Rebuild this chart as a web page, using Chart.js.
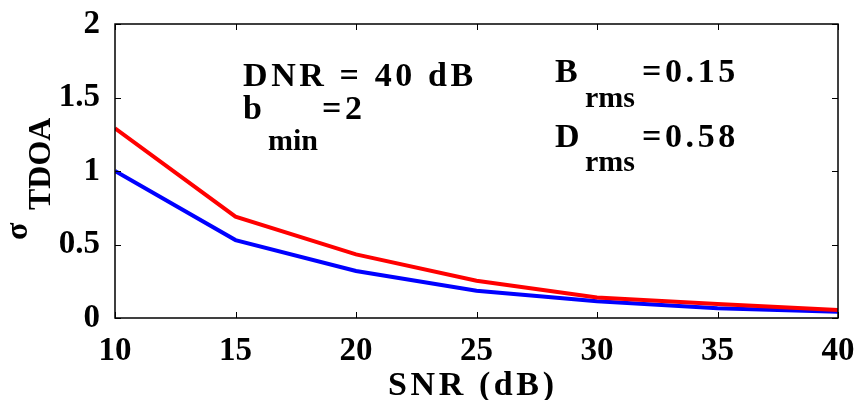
<!DOCTYPE html>
<html>
<head>
<meta charset="utf-8">
<script src="https://cdn.jsdelivr.net/npm/chart.js@4.4.1/dist/chart.umd.min.js"></script>
<style>
  html, body { margin: 0; padding: 0; background: #fff; }
  #wrap { width: 857px; height: 400px; }
</style>
</head>
<body>
<div id="wrap"><canvas id="tdoaChart" width="857" height="400"></canvas></div>
<script>
// data
const snrDb = [10, 15, 20, 25, 30, 35, 40];
const sigmaRed = [1.29, 0.69, 0.433, 0.253, 0.14, 0.095, 0.055];
const sigmaBlue = [1.0, 0.53, 0.32, 0.186, 0.114, 0.066, 0.043];
const xTicks = [10, 15, 20, 25, 30, 35, 40];
const yTicks = [0, 0.5, 1, 1.5, 2];
const yTickLabels = ['0', '0.5', '1', '1.5', '2'];

const SERIF = "'Liberation Serif', 'Times New Roman', serif";

function pts(ys) {
  return snrDb.map((x, i) => ({ x: x, y: ys[i] }));
}

// write text with optional letter spacing
function txt(ctx, s, x, y, size, spacing) {
  ctx.font = 'bold ' + size + 'px ' + SERIF;
  ctx.letterSpacing = (spacing || 0) + 'px';
  ctx.fillText(s, x, y);
  ctx.letterSpacing = '0px';
}

// box, inward ticks, annotations and axis titles
const figurePlugin = {
  id: 'figure',
  afterDraw(chart) {
    const ctx = chart.ctx;
    const a = chart.chartArea;
    const xs = chart.scales.x;
    const ys = chart.scales.y;
    ctx.save();
    ctx.strokeStyle = '#000';
    ctx.lineWidth = 1.5;
    ctx.strokeRect(a.left, a.top, a.right - a.left, a.bottom - a.top);
    ctx.lineWidth = 1;
    const tl = 6;
    ctx.beginPath();
    xTicks.forEach(v => {
      const px = Math.round(xs.getPixelForValue(v)) + 0.5;
      ctx.moveTo(px, a.bottom); ctx.lineTo(px, a.bottom - tl);
      ctx.moveTo(px, a.top); ctx.lineTo(px, a.top + tl);
    });
    yTicks.forEach(v => {
      const py = Math.round(ys.getPixelForValue(v)) + 0.5;
      ctx.moveTo(a.left, py); ctx.lineTo(a.left + tl, py);
      ctx.moveTo(a.right, py); ctx.lineTo(a.right - tl, py);
    });
    ctx.stroke();

    ctx.fillStyle = '#000';
    ctx.textAlign = 'left';
    ctx.textBaseline = 'alphabetic';
    // annotations
    txt(ctx, 'DNR = 40 dB', 243, 86, 34, 3.6);
    txt(ctx, 'b', 243, 119, 34, 3.6);
    txt(ctx, 'min', 268, 150, 30, 0);
    txt(ctx, '=2', 322, 119, 34, 3.6);
    txt(ctx, 'B', 555, 82, 34, 3.6);
    txt(ctx, 'rms', 585, 107, 30, 0);
    txt(ctx, '=0.15', 642, 82, 34, 3.6);
    txt(ctx, 'D', 555, 147, 34, 3.6);
    txt(ctx, 'rms', 585, 171, 30, 0);
    txt(ctx, '=0.58', 642, 147, 34, 3.6);

    // x title
    txt(ctx, 'SNR (dB)', 388, 395, 34, 3.6);

    // y title, rotated
    ctx.save();
    ctx.translate(27, 240);
    ctx.rotate(-Math.PI / 2);
    txt(ctx, 'σ', 0, 0, 32, 0);
    ctx.restore();
    ctx.save();
    ctx.translate(50, 210);
    ctx.rotate(-Math.PI / 2);
    txt(ctx, 'TDOA', 0, 0, 32, 0);
    ctx.restore();
    ctx.restore();
  }
};

const ctx = document.getElementById('tdoaChart').getContext('2d');

const tdoaChart = new Chart(ctx, {
  type: 'line',
  data: {
    datasets: [
      {
        label: 'red',
        data: pts(sigmaRed),
        borderColor: '#ff0000',
        borderWidth: 4,
        pointRadius: 0,
        fill: false,
        tension: 0
      },
      {
        label: 'blue',
        data: pts(sigmaBlue),
        borderColor: '#0000ff',
        borderWidth: 4,
        pointRadius: 0,
        fill: false,
        tension: 0
      }
    ]
  },
  options: {
    responsive: false,
    animation: false,
    layout: { padding: { top: 24, right: 19, left: 0, bottom: 0 } },
    plugins: {
      legend: { display: false },
      tooltip: { enabled: false }
    },
    scales: {
      x: {
        type: 'linear',
        min: 10,
        max: 40,
        afterFit: s => {
          s.height = 82;
          s.paddingLeft = 0;
          s.paddingRight = 0;
        },
        afterBuildTicks: s => { s.ticks = xTicks.map(v => ({ value: v })); },
        grid: { drawOnChartArea: false, drawTicks: false },
        border: { display: false },
        ticks: {
          color: '#000',
          padding: 14,
          maxRotation: 0,
          font: { family: SERIF, size: 33, weight: 'bold' }
        }
      },
      y: {
        min: 0,
        max: 2,
        afterFit: s => {
          s.width = 115;
          s.paddingTop = 0;
          s.paddingBottom = 0;
        },
        afterBuildTicks: s => { s.ticks = yTicks.map(v => ({ value: v })); },
        grid: { drawOnChartArea: false, drawTicks: false },
        border: { display: false },
        ticks: {
          color: '#000',
          padding: 15,
          font: { family: SERIF, size: 33, weight: 'bold' },
          callback: v => yTickLabels[yTicks.indexOf(v)]
        }
      }
    }
  },
  plugins: [figurePlugin]
});
</script>
</body>
</html>
